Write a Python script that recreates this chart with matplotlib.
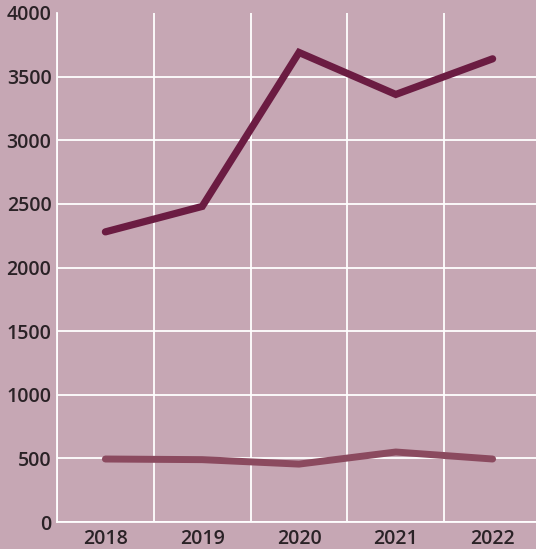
import matplotlib
matplotlib.use("Agg")
import matplotlib.pyplot as plt
import numpy as np

plt.rcParams['font.family'] = ['Open Sans', 'DejaVu Sans']

years = ['2018', '2019', '2020', '2021', '2022']
series_a = [2280, 2480, 3690, 3360, 3640]
series_b = [495, 490, 455, 550, 495]

bg = '#c6a7b4'
fig = plt.figure(figsize=(5.36, 5.49), dpi=100)
fig.patch.set_facecolor(bg)
ax = fig.add_axes([57 / 536, 27 / 549, 484 / 536, 509 / 549])
ax.set_facecolor(bg)

x = np.arange(len(years))
ax.plot(x, series_a, color='#6b1c42', lw=5.2, solid_capstyle='round',
        solid_joinstyle='miter', zorder=3)
ax.plot(x, series_b, color='#8b4a5f', lw=5.0, solid_capstyle='round', zorder=3)

ax.set_xlim(-0.5, len(years) - 0.5)
ax.set_ylim(0, 4000)
ax.set_yticks(range(0, 4001, 500))
ax.set_xticks(x)
ax.set_xticklabels(years)
ax.set_xticks(np.arange(-0.5, len(years), 1), minor=True)

ax.grid(True, axis='y', color='white', lw=1.3, zorder=1)
ax.grid(True, axis='x', which='minor', color='white', lw=1.3, zorder=1)
ax.grid(False, axis='x', which='major')
ax.get_ygridlines()[-1].set_visible(False)

for s in ['top', 'right']:
    ax.spines[s].set_visible(False)
for s in ['left', 'bottom']:
    ax.spines[s].set_color('white')
    ax.spines[s].set_linewidth(1.3)

ax.tick_params(which='both', length=0)
ax.tick_params(axis='y', pad=4, labelsize=14, labelcolor='#2a2226')
ax.tick_params(axis='x', pad=5, labelsize=14, labelcolor='#2a2226')
for lab in ax.get_xticklabels() + ax.get_yticklabels():
    lab.set_fontweight('semibold')

fig.savefig('out.png', dpi=100, facecolor=bg)
